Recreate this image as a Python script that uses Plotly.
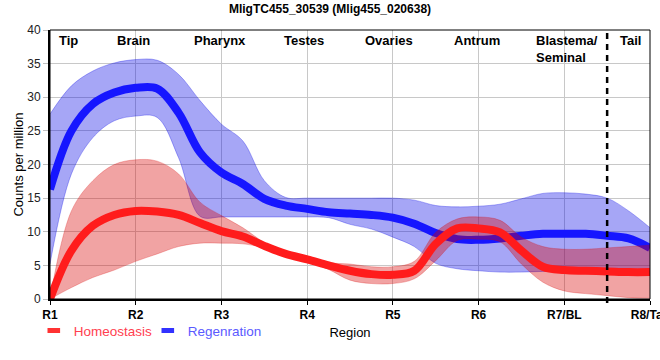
import plotly.graph_objects as go

# Region positions (1 = R1 ... 8 = R8/Tail), sampled at quarter steps
pos = [1, 1.25, 1.5, 1.75, 2, 2.25, 2.5, 2.75, 3, 3.25, 3.5, 3.75, 4, 4.25,
       4.5, 4.75, 5, 5.25, 5.5, 5.75, 6, 6.25, 6.5, 6.75, 7, 7.25, 7.5, 7.75, 8]

regen_mean = [16.3, 25.0, 29.0, 30.7, 31.4, 31.3, 27.7, 21.8, 18.8, 17.1, 14.9, 13.9, 13.4, 12.9,
              12.7, 12.5, 12.1, 11.2, 9.8, 8.9, 8.8, 9.0, 9.4, 9.7, 9.7, 9.7, 9.4, 9.0, 7.6]
regen_hi = [27.5, 31.7, 33.9, 35.1, 35.6, 35.5, 33.4, 29.5, 26.0, 23.5, 17.6, 15.1, 15.0, 15.0,
            15.0, 15.0, 15.0, 14.7, 13.9, 13.7, 13.8, 14.1, 14.9, 15.7, 15.8, 15.6, 15.0, 13.1, 10.6]
regen_lo = [5.2, 18.6, 24.0, 26.5, 27.2, 27.0, 21.0, 12.3, 12.2, 12.2, 12.2, 12.2, 12.2, 12.1,
            11.1, 10.4, 9.2, 7.8, 5.3, 4.5, 4.2, 4.0, 4.0, 4.1, 4.2, 4.2, 4.1, 4.0, 4.0]

homeo_mean = [0, 7.2, 10.9, 12.5, 13.1, 13.0, 12.5, 11.3, 10.1, 9.3, 7.9, 6.7, 5.9, 5.0,
              4.2, 3.7, 3.6, 4.2, 8.2, 10.5, 10.5, 9.9, 7.2, 4.8, 4.3, 4.2, 4.1, 4.0, 4.0]
homeo_hi = [0, 13.1, 17.6, 20.0, 20.7, 20.5, 18.6, 14.4, 12.4, 10.6, 8.4, 7.0, 6.2, 5.4,
            5.2, 4.8, 4.8, 5.6, 9.9, 11.9, 12.2, 11.7, 9.2, 7.8, 7.4, 7.4, 7.6, 7.8, 8.0]
homeo_lo = [0, 1.7, 3.2, 4.3, 5.6, 6.7, 7.8, 8.3, 8.3, 8.2, 7.6, 6.4, 5.6, 4.4,
            2.8, 2.3, 2.3, 3.0, 5.7, 8.7, 8.9, 8.5, 5.2, 2.5, 1.2, 0.8, 0.5, 0.2, 0.1]

tick_pos = [1, 2, 3, 4, 5, 6, 7, 8]
tick_labels = ["R1", "R2", "R3", "R4", "R5", "R6", "R7/BL", "R8/Tail"]
y_ticks = [0, 5, 10, 15, 20, 25, 30, 35, 40]

region_names = ["Tip", "Brain", "Pharynx", "Testes", "Ovaries", "Antrum", "Blastema/<br>Seminal", "Tail"]
region_label_x = [1.22, 1.97, 2.98, 3.96, 4.95, 5.98, 6.65, 7.77]

FONT = "Arial, Liberation Sans, sans-serif"
BLUE = "rgb(22,22,255)"
RED = "rgb(255,28,28)"
BLUE_FILL = "rgba(0,0,230,0.35)"
RED_FILL = "rgba(215,0,0,0.36)"

fig = go.Figure()

# Regeneration band + line
fig.add_trace(go.Scatter(x=pos, y=regen_hi, mode="lines", line=dict(color="rgba(0,0,230,0.3)", width=1, shape="spline"),
                         showlegend=False, hoverinfo="skip"))
fig.add_trace(go.Scatter(x=pos, y=regen_lo, mode="lines", line=dict(color="rgba(0,0,230,0.3)", width=1, shape="spline"),
                         fill="tonexty", fillcolor=BLUE_FILL, showlegend=False, hoverinfo="skip"))
fig.add_trace(go.Scatter(x=pos, y=regen_mean, mode="lines", line=dict(color=BLUE, width=8, shape="spline"),
                         name="Regenration", legendgroup="regen", showlegend=False))

# Homeostasis band + line
fig.add_trace(go.Scatter(x=pos, y=homeo_hi, mode="lines", line=dict(color="rgba(215,0,0,0.25)", width=1, shape="spline"),
                         showlegend=False, hoverinfo="skip"))
fig.add_trace(go.Scatter(x=pos, y=homeo_lo, mode="lines", line=dict(color="rgba(215,0,0,0.25)", width=1, shape="spline"),
                         fill="tonexty", fillcolor=RED_FILL, showlegend=False, hoverinfo="skip"))
fig.add_trace(go.Scatter(x=pos, y=homeo_mean, mode="lines", line=dict(color=RED, width=8, shape="spline"),
                         name="Homeostasis", legendgroup="homeo", showlegend=False))

# legend entries with rectangular swatches
fig.add_trace(go.Scatter(x=[None], y=[None], mode="markers", legendgroup="homeo", legendrank=1,
                         marker=dict(symbol="line-ew", size=9, line=dict(width=7, color="rgb(255,50,50)")),
                         name="<span style='color:#ff4050'>Homeostasis</span>"))
fig.add_trace(go.Scatter(x=[None], y=[None], mode="markers", legendgroup="regen", legendrank=2,
                         marker=dict(symbol="line-ew", size=9, line=dict(width=7, color="rgb(50,50,255)")),
                         name="<span style='color:#5a5aff'>Regenration</span>"))

for name, xp in zip(region_names, region_label_x):
    is_multi = "<br>" in name
    fig.add_annotation(x=xp, y=1, xref="x", yref="paper", text="<b>" + name + "</b>",
                       showarrow=False, xanchor="left" if is_multi else "center", yanchor="top",
                       align="left", yshift=-1,
                       font=dict(family=FONT, size=13, color="black"))

# dashed separator between R7 and R8
fig.add_shape(type="line", x0=7.5, x1=7.5, xref="x", y0=-0.015, y1=1, yref="paper",
              line=dict(color="black", width=2.5, dash="6px,5px"), layer="above")
# thin frame
fig.add_shape(type="rect", x0=0, x1=1, y0=0, y1=1, xref="paper", yref="paper",
              line=dict(color="black", width=1), layer="above")

fig.update_layout(
    width=660, height=360,
    template="none",
    paper_bgcolor="white", plot_bgcolor="white",
    margin=dict(l=50, r=10, t=30, b=61),
    title=dict(text="<b>MligTC455_30539 (Mlig455_020638)</b>", x=0.5, xanchor="center",
               y=0.975, yanchor="middle", font=dict(family=FONT, size=12, color="black")),
    font=dict(family=FONT, size=12, color="black"),
    legend=dict(orientation="h", x=-0.027, xanchor="left", y=-0.118, yanchor="middle",
                font=dict(family=FONT, size=13.5), bgcolor="rgba(0,0,0,0)",
                itemwidth=30, traceorder="normal", entrywidth=69, entrywidthmode="pixels"),
    showlegend=True,
    hovermode=False,
)
fig.update_xaxes(range=[1, 8], tickvals=tick_pos, ticktext=tick_labels,
                 tickfont=dict(family=FONT, size=12, color="black", weight="bold"),
                 ticklabeloverflow="allow",
                 showgrid=True, gridcolor="#c8c8c8", gridwidth=1,
                 showline=True, linecolor="black", linewidth=2,
                 ticks="outside", ticklen=4, tickcolor="black",
                 zeroline=False, automargin=False,
                 title=dict(text="Region", font=dict(family=FONT, size=13, color="black"), standoff=6))
fig.update_yaxes(range=[0, 40], tickvals=y_ticks,
                 tickfont=dict(family=FONT, size=12, color="#222"),
                 showgrid=True, gridcolor="#c8c8c8", gridwidth=1,
                 showline=True, linecolor="black", linewidth=2,
                 ticks="outside", ticklen=5, tickcolor="#c0c0c0",
                 zeroline=False, automargin=False,
                 title=dict(text="Counts per million", font=dict(family=FONT, size=13, color="black"), standoff=1))

fig.write_html("out.html", config={"displayModeBar": False},
               post_script="document.body.style.margin='0';")
